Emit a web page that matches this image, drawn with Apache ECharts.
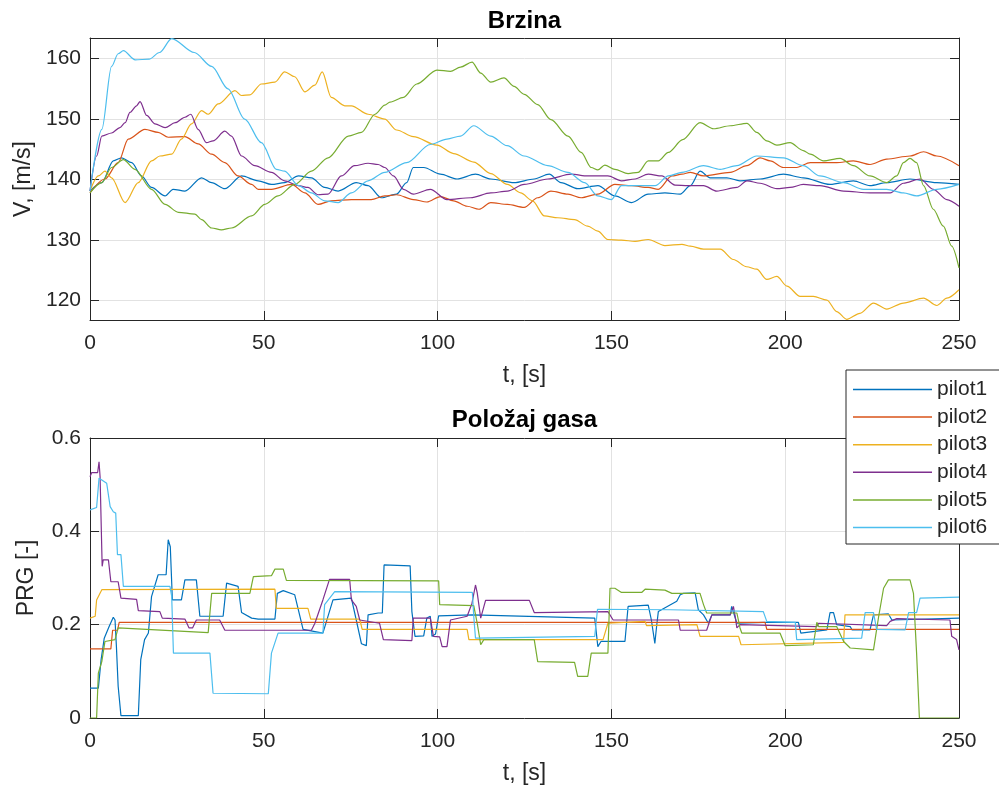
<!DOCTYPE html>
<html>
<head>
<meta charset="utf-8">
<script src="https://cdn.jsdelivr.net/npm/echarts@6/dist/echarts.min.js"></script>
<style>
html,body{margin:0;padding:0;background:#ffffff;}
#chart{width:999px;height:797px;}
</style>
</head>
<body>
<div id="chart"></div>
<script>
// ---------- data ----------
const pilotNames = ['pilot1', 'pilot2', 'pilot3', 'pilot4', 'pilot5', 'pilot6'];

// Brzina (speed) [t s, V m/s]
const pilot1Speed = [[0,138.1],[3.4,139.5],[6.7,143.1],[9.1,143.6],[12,142.8],[14.8,140.6],[17.7,138.7],[21.6,137.3],[23.9,138.4],[27.3,138.1],[32.1,140.3],[35,139.5],[38.8,138.5],[43.6,140.6],[48.4,139.8],[52.2,139.2],[56,139.5],[60,140.6],[63.7,140.3],[67.5,138.7],[71.4,138.1],[76.6,139.5],[80,139],[83.8,137],[88.2,137.6],[91.1,139.5],[93,142],[96,142],[100.8,140.9],[105.6,140.1],[110.9,140.9],[115.3,140.1],[122,139.5],[127.8,140.1],[132.1,140.9],[135.5,139.5],[140.3,138.5],[146.1,139],[151,137.3],[155.8,136.2],[160.6,137.6],[165.4,137.8],[169.8,137.6],[172.7,139],[175.5,141.4],[178.4,140.3],[183.2,140.3],[187,139.8],[192.8,140.1],[199.5,140.9],[205.2,140.3],[212.9,139.2],[219.6,139.8],[224.4,139],[229.2,139.5],[235.9,140.1],[243.6,139.5],[250,139.2]];
const pilot2Speed = [[0,137.8],[4.3,140.1],[8.1,142.8],[11,146.7],[15.8,148.3],[19.6,147.8],[22.5,147],[27.3,147.1],[31.1,145.9],[35,144.2],[38.8,142.8],[42.6,140.6],[46.5,139.2],[48.4,138.4],[52.2,138.4],[58,139.2],[61.8,137.8],[65.6,135.9],[69.4,136.5],[75.2,136.7],[80.9,136.7],[84.8,137.3],[88.2,137.5],[93,136.7],[96.9,136.3],[100.8,137.2],[104.6,136.5],[108.5,135.6],[111.9,135.1],[115.3,136.2],[120.1,135.9],[124.9,135.4],[128.8,137],[132.6,138.1],[137.5,137.6],[141.3,137],[146.1,137.6],[151,139.2],[155.8,139],[160.6,138.7],[163.5,138.4],[167.4,140.6],[170.3,140.9],[172.7,141.2],[176.5,140.6],[184.2,141.2],[189,142.3],[192.8,143.6],[195.7,143.1],[199.5,142],[203.3,142],[207.2,142.8],[214.8,142.8],[219.6,143.1],[224.4,142.5],[229.2,143.4],[235.9,143.9],[239.8,144.6],[243.6,143.9],[250,142.3]];
const pilot3Speed = [[0,138.1],[2.4,140.6],[4.3,141.4],[6.2,140.3],[10.1,136.2],[13.9,139.5],[17.7,143.1],[20.1,143.9],[23.5,144.2],[26.3,146.7],[29.2,149.2],[32.1,151.4],[34,150.8],[36.9,152.5],[41.7,154.7],[43.6,153.9],[46,154],[49.3,155.8],[53.2,156.1],[56,157.8],[58.9,157],[61.8,154.5],[64.7,155.6],[66.8,157.8],[69.4,153.6],[73.3,152.2],[75.2,152.2],[80,150.8],[84.8,150],[88.2,148.2],[93,147.1],[99.8,145.7],[104.6,144.3],[110.4,142.9],[115.3,141],[120.1,139.2],[123.9,137.8],[127.3,136.5],[130.7,134],[134.6,133.7],[139.4,133.4],[143.2,132.3],[146.1,131.5],[149,130.1],[152.9,130],[156.8,129.8],[160.6,130.1],[165.4,129.1],[170.3,129.3],[172.7,129],[176.5,128.5],[181.3,128.5],[185.1,126.8],[188.9,125.6],[191.8,125.2],[194.7,123.5],[197.6,124],[200.5,122.4],[204.3,120.7],[208.1,120.7],[212,120.1],[214.8,118.2],[217.7,116.9],[221.5,117.9],[225.4,119.6],[229.2,118.6],[234,119.6],[239.8,120.4],[243.6,119.2],[246.5,120.4],[250,121.8]];
const pilot4Speed = [[0,138.1],[1.9,143.9],[3.4,147.2],[6.2,147.7],[8.6,148.6],[10.1,149.4],[11.5,151.1],[13.4,152.2],[14.4,152.9],[16.3,150.6],[18.7,149.2],[21.6,148.6],[24.5,149.4],[27.3,150.3],[29,150.8],[31.1,148.3],[33.5,146.1],[35.4,146.4],[38.8,148],[40.7,147.2],[43.6,143.9],[47.4,142.3],[52.2,141.2],[56,139.8],[60,139],[62.7,138.7],[65.6,137.5],[68.5,137.6],[72.3,140.6],[76.1,142.3],[80,142.7],[82.9,142.5],[84.8,142],[87.3,140.6],[90.2,138.4],[93,137.6],[97.9,138.4],[102.7,136.7],[109.5,137],[115.3,137.8],[120.1,138.1],[124.9,139.2],[131.7,140.1],[138.4,140.9],[143.2,140.6],[149,140.6],[152.9,139.8],[156.8,140.1],[160.6,140.9],[164.5,140.6],[168.3,139.1],[172,139],[176.5,139],[180.3,138.1],[186.1,138.7],[189,139.8],[192.8,139.4],[197.6,138.5],[201.4,138.7],[205.2,139.2],[210,139],[216.8,138.1],[224.4,137.8],[230.2,137.8],[234,139.4],[238.8,140.1],[242.6,138.4],[246.5,136.7],[250,135.6]];
const pilot5Speed = [[0,137.8],[3.4,139.5],[6.2,142],[9.6,143.3],[12.9,141.7],[17.7,138.4],[21.6,135.9],[25.4,134.6],[30.2,134.3],[32.1,133.4],[35,132],[37.8,131.7],[40.7,132],[46.5,134],[50.3,135.9],[54.1,137.3],[58.9,139.2],[63.7,141.4],[68.5,143.6],[74.3,147.2],[78.1,147.8],[82,150.8],[84.8,152.3],[86.3,152.8],[90.2,153.6],[94,155.8],[99.8,158.1],[103.7,157.9],[106.6,158.6],[109.9,159.4],[112.4,157.6],[115.3,156.1],[119.1,156.8],[122,155.4],[124.9,154.1],[128.8,152.4],[132.6,149.9],[137.5,147.2],[141.3,144.5],[144.2,142],[146.1,141.6],[148.1,142.4],[151,141.7],[154.8,141],[157.7,141.2],[160.6,143.1],[163.5,143.1],[166.4,144.5],[170.5,146.6],[175.5,149.4],[179.4,148.4],[184.2,148.9],[189,149.3],[191.8,147.8],[194.7,146.4],[197.6,145.7],[201.4,146.1],[205.2,144.8],[207.2,144.2],[211,143.1],[215.8,143.5],[219.6,142.3],[224.4,140.6],[229.2,139.5],[232.1,140.6],[234,142.8],[235.9,143.5],[237.8,142.8],[239.8,139],[242.6,135.1],[245.5,132.3],[247.9,129],[250,125.4]];
const pilot6Speed = [[0,138.1],[3.4,148.3],[6.2,158.7],[8.1,160.8],[9.6,161.3],[13,159.8],[17,159.9],[20,161],[23.5,163.3],[30,161],[35,158.7],[39.7,155],[44.5,150],[49.3,146.1],[53.6,141.7],[56,141.4],[60,139],[63.7,137.8],[67.5,136.5],[71.4,136.2],[75.2,137.8],[80,139.8],[84.8,141.2],[91.1,142.8],[97.9,145.8],[102.7,146.7],[106.6,147.2],[110.4,148.9],[115.3,147.2],[120,145.6],[124.9,143.9],[131.7,142.3],[137.5,141.2],[142.3,139.5],[146.1,137.3],[150,136.7],[152.9,139],[158.7,139],[162.6,139],[166.4,140.6],[170.3,141.2],[176.5,142.3],[181.3,141.7],[186.1,142.3],[191.8,143.9],[199.5,143.6],[205.2,142.3],[210,140.6],[216.8,139.5],[222.5,138.4],[229.2,138.4],[234,137.8],[237.8,137.3],[243.6,138.4],[250,139.2]];

// Polozaj gasa (throttle) [t s, PRG]
const pilot1Throttle = [[0,0.064],[2.4,0.064],[3.2,0.125],[4.1,0.171],[5.5,0.196],[6.7,0.216],[7.2,0.21],[7.6,0.153],[8.1,0.068],[8.9,0.005],[13.9,0.005],[14.6,0.125],[15.7,0.168],[16.8,0.182],[17.7,0.26],[19.6,0.307],[21.9,0.307],[22.5,0.382],[23.1,0.367],[23.7,0.253],[26.3,0.253],[27.3,0.296],[30.6,0.296],[31.6,0.218],[38.3,0.218],[39.3,0.289],[42.6,0.282],[43.6,0.226],[46.5,0.214],[48.4,0.212],[53.2,0.212],[53.9,0.267],[55.6,0.273],[58.9,0.264],[61.3,0.19],[67,0.182],[69.9,0.253],[75.2,0.257],[76.6,0.21],[78.1,0.159],[79.5,0.155],[80,0.221],[82.9,0.225],[84.1,0.225],[84.6,0.328],[92.1,0.326],[92.6,0.228],[93.5,0.175],[96,0.176],[96.9,0.214],[97.9,0.218],[98.4,0.175],[99.4,0.18],[100.3,0.219],[110,0.221],[145.2,0.214],[146.1,0.153],[147,0.164],[153.9,0.164],[154.8,0.239],[160.6,0.242],[161.5,0.21],[162.5,0.16],[163,0.196],[163.5,0.228],[168.8,0.25],[169.8,0.264],[170.7,0.267],[174.1,0.268],[175,0.232],[176.5,0.221],[177.9,0.203],[178.9,0.221],[184.2,0.221],[184.6,0.239],[186.1,0.203],[194.2,0.205],[203.8,0.205],[204.5,0.182],[212,0.189],[212.9,0.226],[213.9,0.226],[214.8,0.2],[218.7,0.196],[219.2,0.189],[224.4,0.189],[225.4,0.221],[229.7,0.223],[230.7,0.21],[250,0.214]];
const pilot2Throttle = [[0,0.148],[6,0.148],[6.5,0.188],[7.9,0.188],[8.4,0.205],[194.2,0.205],[194.7,0.19],[250,0.19]];
const pilot3Throttle = [[0,0.214],[1.5,0.218],[1.9,0.253],[3.4,0.275],[53.2,0.276],[53.6,0.235],[62.7,0.235],[63.5,0.212],[77.6,0.212],[78.3,0.19],[108.5,0.19],[109,0.168],[147.6,0.168],[149,0.203],[159.7,0.207],[160.1,0.198],[174.6,0.2],[175.5,0.175],[186.6,0.175],[187.3,0.157],[216.8,0.162],[217.2,0.221],[250,0.221]];
const pilot4Throttle = [[0,0.517],[0.5,0.526],[2.2,0.526],[2.6,0.549],[2.9,0.517],[3.5,0.325],[3.8,0.339],[5.3,0.339],[6,0.292],[8.1,0.292],[8.9,0.257],[13.4,0.254],[13.9,0.23],[20.1,0.228],[20.8,0.214],[27.3,0.212],[28.5,0.193],[29.5,0.193],[30.6,0.21],[37.3,0.21],[38.8,0.188],[63.7,0.188],[64.7,0.203],[67,0.253],[68.9,0.297],[74.7,0.297],[75.2,0.253],[76.6,0.239],[77.6,0.21],[83.3,0.203],[84.4,0.168],[92.6,0.166],[93,0.214],[97.9,0.214],[98.8,0.175],[100.6,0.174],[101.3,0.153],[102.7,0.153],[103.7,0.21],[108.5,0.218],[109.9,0.246],[110.9,0.285],[111.4,0.268],[112.4,0.214],[113.8,0.252],[126.4,0.252],[127.8,0.226],[149,0.228],[150.5,0.21],[169.3,0.21],[169.8,0.188],[177.4,0.188],[178.9,0.221],[184.2,0.221],[185.1,0.239],[185.6,0.218],[186.1,0.193],[187,0.2],[209.1,0.196],[209.6,0.203],[229.2,0.198],[230.2,0.207],[232.1,0.213],[247.4,0.21],[247.9,0.175],[249.3,0.168],[250,0.146]];
const pilot5Throttle = [[0,0],[1.9,0],[2.4,0.096],[3.4,0.121],[4.3,0.164],[7.2,0.168],[8.1,0.193],[34,0.183],[35,0.267],[46,0.267],[47,0.303],[52.2,0.305],[53.2,0.319],[55.6,0.319],[56.5,0.295],[100.3,0.294],[100.6,0.243],[110.4,0.241],[111.4,0.203],[112.4,0.157],[113.3,0.168],[127.8,0.168],[128.8,0.121],[139.4,0.119],[140.3,0.089],[143.2,0.089],[144.2,0.139],[149,0.139],[149.6,0.278],[151,0.278],[152.9,0.269],[158.7,0.269],[159.7,0.276],[165.4,0.274],[167.4,0.267],[175.5,0.267],[176.5,0.243],[177.4,0.225],[186.1,0.225],[187,0.193],[187.5,0.182],[198.5,0.182],[200,0.155],[208.1,0.157],[209.1,0.205],[209.6,0.196],[214.8,0.196],[216.8,0.164],[218.7,0.15],[225.4,0.146],[226,0.175],[226.9,0.218],[228.3,0.278],[229.7,0.296],[235.9,0.296],[236.9,0.267],[237.8,0.139],[238.6,0],[250,0]];
const pilot6Throttle = [[0,0.446],[1.9,0.451],[2.6,0.514],[3.4,0.51],[4.8,0.503],[5.8,0.453],[6.7,0.442],[7.4,0.439],[7.9,0.35],[8.9,0.35],[9.6,0.282],[23,0.282],[23.5,0.261],[24,0.139],[34.5,0.139],[35.4,0.053],[51.3,0.052],[52.2,0.139],[54.1,0.182],[67,0.182],[67.5,0.243],[70.4,0.271],[110,0.269],[110.4,0.218],[110.9,0.171],[145.2,0.175],[146,0.233],[166.9,0.232],[193.7,0.228],[194.7,0.207],[202.9,0.205],[203.3,0.168],[222,0.171],[223,0.226],[225.4,0.226],[226.3,0.19],[234.5,0.189],[235.5,0.226],[237.8,0.226],[238.8,0.257],[250,0.259]];

const speedSeries = [pilot1Speed, pilot2Speed, pilot3Speed, pilot4Speed, pilot5Speed, pilot6Speed];
const throttleSeries = [pilot1Throttle, pilot2Throttle, pilot3Throttle, pilot4Throttle, pilot5Throttle, pilot6Throttle];

const timeRange = [0, 250];
const timeStep = 50;
const speedRange = [116.8, 163.4];
const speedTickStep = 10;
const throttleRange = [0, 0.6];
const throttleTickStep = 0.2;

const titles = ['Brzina', 'Položaj gasa'];
const xLabel = 't, [s]';
const yLabels = ['V, [m/s]', 'PRG [-]'];

// ---------- styling ----------
const colors = ['#0072BD', '#D95319', '#EDB120', '#7E2F8E', '#77AC30', '#4DBEEE'];
const FONT = "'Liberation Sans', Arial, Helvetica, sans-serif";
const ink = '#262626';
const gridLineColor = '#e2e2e2';

const grids = [
  { left: 90, top: 38, width: 869, height: 282, containLabel: false, outerBoundsMode: 'none' },
  { left: 90, top: 438, width: 869, height: 280, containLabel: false, outerBoundsMode: 'none' }
];

const axisLineStyle = { show: true, onZero: false, lineStyle: { color: ink, width: 1 } };
const tickStyle = { show: true, inside: true, length: 9, lineStyle: { color: ink, width: 1 } };

function xAxisPair(gi) {
  return [
    {
      gridIndex: gi, type: 'value', position: 'bottom',
      min: timeRange[0], max: timeRange[1], interval: timeStep,
      axisLine: axisLineStyle, axisTick: tickStyle,
      axisLabel: { show: true, fontSize: 21, color: ink, fontFamily: FONT, margin: 13 },
      splitLine: { show: true, lineStyle: { color: gridLineColor, width: 1 } },
      name: xLabel, nameLocation: 'middle', nameGap: 44,
      nameTextStyle: { fontSize: 23, color: ink, fontFamily: FONT }
    },
    {
      gridIndex: gi, type: 'value', position: 'top',
      min: timeRange[0], max: timeRange[1], interval: timeStep,
      axisLine: axisLineStyle, axisTick: tickStyle,
      axisLabel: { show: false }, splitLine: { show: false }
    }
  ];
}

function yAxisPair(gi, range, step, label) {
  const common = { gridIndex: gi, type: 'value', min: range[0], max: range[1] };
  if (Math.abs(range[0] / step - Math.round(range[0] / step)) < 1e-9) { common.interval = step; } else { common.splitNumber = 5; }
  const isTick = v => Math.abs(v / step - Math.round(v / step)) < 1e-6;
  const fmt = v => isTick(v) ? String(parseFloat((Math.round(v / step) * step).toFixed(6))) : '';
  return [
    Object.assign({}, common, {
      position: 'left',
      axisLine: axisLineStyle, axisTick: tickStyle,
      axisLabel: { show: true, fontSize: 21, color: ink, fontFamily: FONT, margin: 9, formatter: fmt },
      splitLine: { show: true, lineStyle: { color: gridLineColor, width: 1 } },
      name: label, nameLocation: 'middle', nameGap: 52,
      nameTextStyle: { fontSize: 23, color: ink, fontFamily: FONT }
    }),
    Object.assign({}, common, {
      position: 'right',
      axisLine: axisLineStyle, axisTick: tickStyle,
      axisLabel: { show: false }, splitLine: { show: false }
    })
  ];
}

const series = [];
speedSeries.forEach((d, i) => {
  series.push({
    name: pilotNames[i], type: 'line', xAxisIndex: 0, yAxisIndex: 0,
    data: d, symbol: 'none', showSymbol: false, smooth: 0.3, smoothMonotone: 'x',
    lineStyle: { color: colors[i], width: 1.2 }, itemStyle: { color: colors[i] },
    emphasis: { disabled: true }, animation: false
  });
});
throttleSeries.forEach((d, i) => {
  series.push({
    name: pilotNames[i], type: 'line', xAxisIndex: 2, yAxisIndex: 2,
    data: d, symbol: 'none', showSymbol: false,
    lineStyle: { color: colors[i], width: 1.2 }, itemStyle: { color: colors[i] },
    emphasis: { disabled: true }, animation: false
  });
});

const chart = echarts.init(document.getElementById('chart'), null, { renderer: 'canvas' });
chart.setOption({
  backgroundColor: '#ffffff',
  animation: false,
  textStyle: { fontFamily: FONT },
  grid: grids,
  xAxis: xAxisPair(0).concat(xAxisPair(1)),
  yAxis: yAxisPair(0, speedRange, speedTickStep, yLabels[0]).concat(yAxisPair(1, throttleRange, throttleTickStep, yLabels[1])),
  graphic: [
    { type: 'text', x: 524.5, y: 21, z: 10,
      style: { text: titles[0], font: 'bold 24px ' + FONT, fill: '#000', textAlign: 'center', textVerticalAlign: 'middle' } },
    { type: 'text', x: 524.5, y: 420, z: 10,
      style: { text: titles[1], font: 'bold 24px ' + FONT, fill: '#000', textAlign: 'center', textVerticalAlign: 'middle' } }
  ],
  legend: {
    data: pilotNames, orient: 'vertical', left: 846, top: 370,
    icon: 'rect', itemWidth: 79, itemHeight: 1.5, itemGap: 6.6,
    padding: [9, 14, 6, 7],
    backgroundColor: '#ffffff', borderColor: ink, borderWidth: 1, borderRadius: 0,
    textStyle: { fontSize: 21, color: ink, fontFamily: FONT },
    selectedMode: false, z: 20
  },
  series: series
});
</script>
</body>
</html>
